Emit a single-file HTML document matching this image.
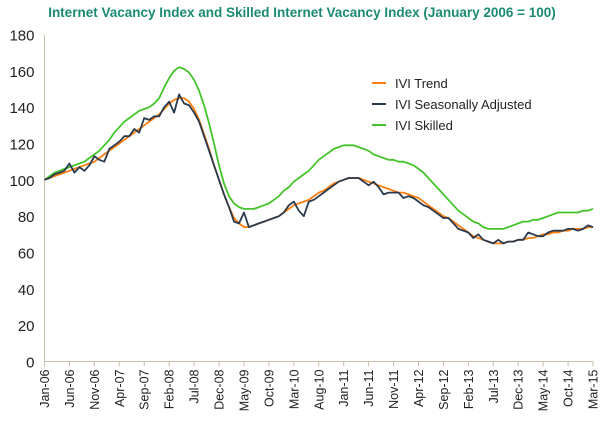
<!DOCTYPE html>
<html><head><meta charset="utf-8"><style>
body{margin:0;background:#fff;font-family:"Liberation Sans",sans-serif}
svg text{font-family:"Liberation Sans",sans-serif}
</style></head><body>
<svg id="c" width="605" height="424" xmlns="http://www.w3.org/2000/svg">
<text x="302" y="17" text-anchor="middle" font-size="13.5" font-weight="bold" fill="#1a8a72">Internet Vacancy Index and Skilled Internet Vacancy Index (January 2006 = 100)</text>
<g id="axes"></g><g id="series"></g>
<g>
<line x1="372" y1="83" x2="386" y2="83" stroke="#ff7f0e" stroke-width="2"/>
<text x="395" y="88" font-size="13" fill="#222">IVI Trend</text>
<line x1="372" y1="104" x2="386" y2="104" stroke="#2a3a4e" stroke-width="2"/>
<text x="395" y="109" font-size="13" fill="#222">IVI Seasonally Adjusted</text>
<line x1="372" y1="125" x2="386" y2="125" stroke="#44c42a" stroke-width="2"/>
<text x="395" y="130" font-size="13" fill="#222">IVI Skilled</text>
</g>
</svg>
<script>
const months=["Jan","Feb","Mar","Apr","May","Jun","Jul","Aug","Sep","Oct","Nov","Dec"];
const yTicks=[0,20,40,60,80,100,120,140,160,180];
const trend=[100,101,102,103,104,105,106,107,108,109,110,112,
114,116,118,120,122,124,126,128,130,132,134,136,
139,142,144,145,145,143,139,133,125,117,108,100,
92,85,79,76,74,74,75,76,77,78,79,80,
82,84,86,87,88,89,91,93,94,96,98,99,
100,101,101,101,100,99,98,97,96,95,94,93,
93,92,91,90,88,86,84,82,80,79,77,75,
73,71,69,68,67,66,65,65,65,66,66,67,
67,68,68,69,70,70,71,71,72,72,73,73,
73,74,74];
const adjusted=[100,101,103,104,105,109,104,107,105,108,113,111,
110,117,119,121,124,124,128,126,134,133,135,135,
140,143,137,147,142,141,137,132,124,116,108,100,
92,85,77,76,82,74,75,76,77,78,79,80,
82,86,88,83,80,88,89,91,93,95,97,99,
100,101,101,101,99,97,99,96,92,93,93,93,
90,91,90,88,86,85,83,81,79,79,76,73,
72,71,68,70,67,66,65,67,65,66,66,67,
67,71,70,69,69,71,72,72,72,73,73,72,
73,75,74];
const skilled=[100,102,104,105,106,107,108,109,110,112,114,116,
119,122,126,129,132,134,136,138,139,140,142,145,
151,156,160,162,161,159,155,149,141,131,120,108,
98,91,87,85,84,84,84,85,86,87,89,91,
94,96,99,101,103,105,108,111,113,115,117,118,
119,119,119,118,117,116,114,113,112,111,111,110,
110,109,108,106,104,101,98,95,92,89,86,83,
81,79,77,76,74,73,73,73,73,74,75,76,
77,77,78,78,79,80,81,82,82,82,82,82,
83,83,84];
const X0=44.5,X1=593,Y0=361.5,Y1=34.5,N=trend.length;
const x=i=>X0+(X1-X0)*i/(N-1);
const y=v=>Y0-(Y0-Y1)*v/180;
const NS="http://www.w3.org/2000/svg";
const ax=document.getElementById("axes"),se=document.getElementById("series");
function mk(tag,at,p){const e=document.createElementNS(NS,tag);for(const k in at)e.setAttribute(k,at[k]);p.appendChild(e);return e;}
const ya=mk("line",{x1:X0,y1:Y1,x2:X0,y2:Y0,stroke:"#c8bfae","stroke-width":1},ax);


const xa=mk("line",{x1:X0,y1:Y0,x2:X1,y2:Y0,stroke:"#c8bfae","stroke-width":1},ax);


yTicks.forEach(v=>{const t=mk("text",{x:X0-10,y:y(v)+6,"text-anchor":"end","font-size":15,fill:"#222"},ax);t.textContent=v;

});
for(let i=0;i<N;i+=5){
 const tk=mk("line",{x1:x(i),y1:Y0,x2:x(i),y2:Y0+5,stroke:"#c8bfae"},ax);
 
 
 const yr=String(6+Math.floor(i/12)).padStart(2,"0");
 const lbl=months[i%12]+"-"+yr;
 const t=mk("text",{transform:`translate(${x(i)+4.5},${Y0+8}) rotate(-90)`,"text-anchor":"end","font-size":12.5,fill:"#222"},ax);
 t.textContent=lbl;
 
 
}
function line(arr,col,name){
 const p=mk("path",{d:arr.map((v,i)=>(i?"L":"M")+x(i).toFixed(1)+","+y(v).toFixed(1)).join(""),fill:"none",stroke:col,"stroke-width":1.8,"stroke-linejoin":"round"},se);
 
 
}
line(skilled,"#44c42a","line-ivi-skilled");
line(trend,"#ff7f0e","line-ivi-trend");
line(adjusted,"#2a3a4e","line-ivi-sa");
</script>
</body></html>
